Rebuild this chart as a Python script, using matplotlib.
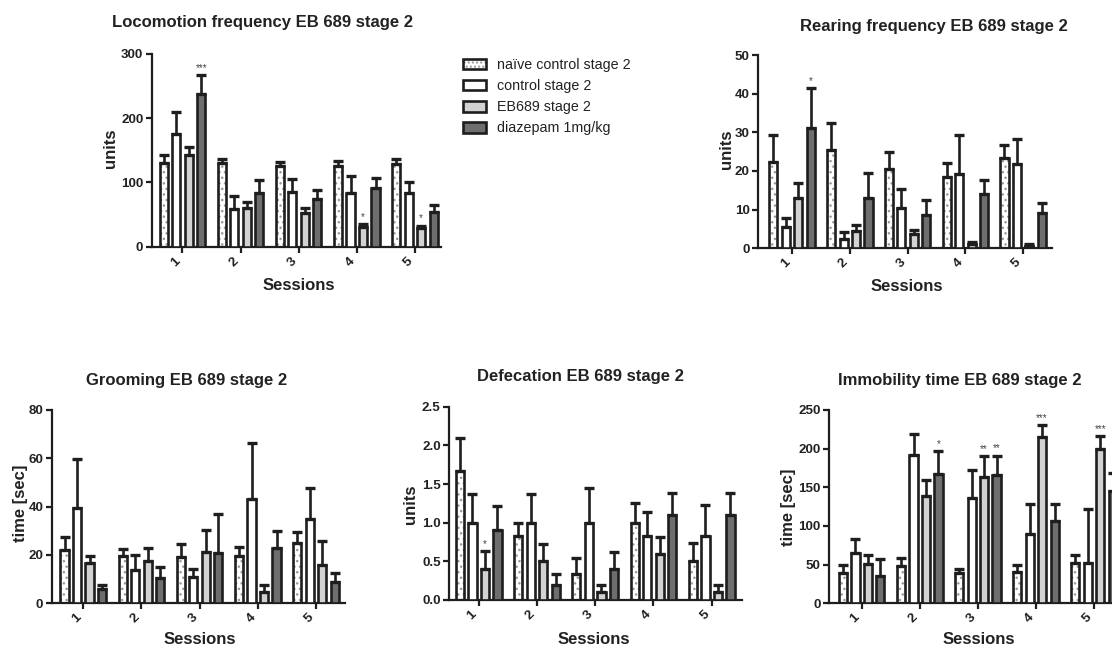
import matplotlib
matplotlib.use("Agg")
import matplotlib.pyplot as plt
from matplotlib.patches import Patch
import numpy as np

plt.rcParams['font.family'] = ['Liberation Sans', 'DejaVu Sans']

W, H = 1112, 648
DPI = 100

sessions = ["1", "2", "3", "4", "5"]
groups = ["naïve control stage 2", "control stage 2", "EB689 stage 2", "diazepam 1mg/kg"]

# ---- data: rows = groups (naive, control, EB689, diazepam), columns = sessions 1..5
loco_mean = [[130, 130, 125, 125, 128],
             [175, 59, 85, 83, 84],
             [143, 60, 52, 30, 29],
             [237, 84, 75, 92, 54]]
loco_err = [[12, 6, 7, 8, 9],
            [34, 20, 20, 27, 16],
            [12, 9, 9, 5, 4],
            [30, 20, 13, 15, 11]]
loco_sig = [(3, 0, "***"), (2, 3, "*"), (2, 4, "*")]

rear_mean = [[22.4, 25.3, 20.4, 18.4, 23.4],
             [5.4, 2.4, 10.3, 19.3, 21.8],
             [12.9, 4.6, 3.6, 1.2, 0.7],
             [31.2, 12.9, 8.5, 14.0, 9.1]]
rear_err = [[6.9, 7.2, 4.6, 3.6, 3.4],
            [2.5, 1.7, 5.0, 10.0, 6.4],
            [3.9, 1.3, 1.1, 0.4, 0.3],
            [10.2, 6.7, 4.0, 3.7, 2.7]]
rear_sig = [(3, 0, "*")]

groom_mean = [[22.1, 19.6, 19.3, 19.6, 25.0],
              [39.4, 13.8, 10.8, 43.0, 34.8],
              [16.6, 17.5, 21.2, 4.7, 15.7],
              [5.8, 10.3, 21.0, 22.8, 9.0]]
groom_err = [[5.5, 3.0, 5.1, 3.8, 4.4],
             [20.5, 6.3, 3.3, 23.2, 12.8],
             [3.0, 5.5, 9.1, 2.9, 10.1],
             [1.8, 4.7, 16.0, 7.3, 3.4]]
groom_sig = []

defec_mean = [[1.67, 0.83, 0.34, 1.0, 0.5],
              [1.0, 1.0, 1.0, 0.83, 0.83],
              [0.4, 0.5, 0.1, 0.6, 0.1],
              [0.9, 0.2, 0.4, 1.1, 1.1]]
defec_err = [[0.43, 0.17, 0.20, 0.26, 0.24],
             [0.37, 0.37, 0.45, 0.31, 0.40],
             [0.23, 0.23, 0.10, 0.22, 0.10],
             [0.32, 0.13, 0.22, 0.28, 0.28]]
defec_sig = [(2, 0, "*")]

immob_mean = [[39, 48, 39, 40, 52],
              [65, 192, 136, 90, 52],
              [51, 139, 163, 215, 200],
              [35, 167, 166, 106, 145]]
immob_err = [[11, 10, 6, 9, 10],
             [18, 27, 36, 39, 70],
             [12, 20, 27, 15, 16],
             [22, 30, 25, 22, 24]]
immob_sig = [(3, 1, "*"), (2, 2, "**"), (3, 2, "**"), (2, 3, "***"), (2, 4, "***")]

face_colors = ["white", "white", "#d2d2d2", "#6e6e6e"]
EDGE = "#1e1e1e"
TXT = "#222222"
BAR_W = 0.14
PITCH = 0.215
LW = 1.9

fig = plt.figure(figsize=(W / DPI, H / DPI), dpi=DPI)


def add_ax(left, right, y0, ytop):
    return fig.add_axes([left / W, 1 - y0 / H, (right - left) / W, (y0 - ytop) / H])


def panel(ax, means, errs, sig, ymax, ystep, xlim, ylabel, yfmt):
    x = np.arange(1, len(sessions) + 1)
    for g in range(4):
        pos = x + (g - 1.5) * PITCH
        m = np.array(means[g], dtype=float)
        e = np.array(errs[g], dtype=float)
        if g == 0:
            ax.bar(pos, m, BAR_W, color="white", edgecolor="#9a9a9a", hatch="...",
                   linewidth=0, zorder=2)
            ax.bar(pos, m, BAR_W, fill=False, edgecolor=EDGE, linewidth=LW, zorder=3)
        else:
            ax.bar(pos, m, BAR_W, color=face_colors[g], edgecolor=EDGE,
                   linewidth=LW, zorder=3)
        ax.errorbar(pos, m, yerr=[np.zeros_like(e), e], fmt="none", ecolor=EDGE,
                    elinewidth=1.9, capsize=3.5, capthick=2.4, zorder=4)
    for g, s, txt in sig:
        ax.annotate(txt, (s + 1 + (g - 1.5) * PITCH, means[g][s] + errs[g][s]),
                    xytext=(0, 1.5), textcoords="offset points", ha="center",
                    va="bottom", fontsize=7, color="#444444")
    ax.set_xlim(*xlim)
    ax.set_ylim(0, ymax)
    ticks = np.arange(0, ymax + ystep / 2, ystep)
    ax.set_yticks(ticks)
    ax.set_yticklabels([yfmt.format(v) for v in ticks],
                       fontsize=9.6, fontweight="bold", color=TXT)
    ax.set_xticks(x)
    ax.set_xticklabels(sessions, rotation=45, ha="right", fontsize=9.6,
                       fontweight="bold", color=TXT)
    for sp in ["top", "right"]:
        ax.spines[sp].set_visible(False)
    for sp in ["left", "bottom"]:
        ax.spines[sp].set_linewidth(1.6)
        ax.spines[sp].set_color(EDGE)
    ax.tick_params(axis="both", width=1.6, length=4, color=EDGE, pad=2)
    ax.set_xlabel("Sessions", fontsize=12, fontweight="bold", color=TXT, va="center")
    ax.set_ylabel(ylabel, fontsize=12, fontweight="bold", color=TXT, va="center")
    return ax


def fix_labels(ax, title, xl_px, yl_px, t_px):
    ax.xaxis.set_label_coords(xl_px[0] / W, 1 - xl_px[1] / H, transform=fig.transFigure)
    ax.yaxis.set_label_coords(yl_px[0] / W, 1 - yl_px[1] / H, transform=fig.transFigure)
    fig.text(t_px[0] / W, 1 - t_px[1] / H, title, ha="center", va="center",
             fontsize=12, fontweight="bold", color=TXT)


# Locomotion
ax1 = add_ax(151.7, 441, 246.7, 54)
panel(ax1, loco_mean, loco_err, loco_sig, 300, 100, (0.47, 5.45), "units", "{:.0f}")
fix_labels(ax1, "Locomotion frequency EB 689 stage 2", (299, 285), (110, 148), (262, 22))

# Rearing
ax2 = add_ax(758, 1052, 248.3, 55)
panel(ax2, rear_mean, rear_err, rear_sig, 50, 10, (0.41, 5.5), "units", "{:.0f}")
fix_labels(ax2, "Rearing frequency EB 689 stage 2", (907, 286.5), (726, 149), (934, 27))

# Grooming
ax3 = add_ax(51.7, 345, 603.3, 410)
panel(ax3, groom_mean, groom_err, groom_sig, 80, 20, (0.457, 5.5), "time [sec]", "{:.0f}")
fix_labels(ax3, "Grooming EB 689 stage 2", (200, 640), (21, 503), (187, 380))

# Defecation
ax4 = add_ax(449, 741.7, 600, 406.7)
panel(ax4, defec_mean, defec_err, defec_sig, 2.5, 0.5, (0.49, 5.515), "units", "{:.1f}")
fix_labels(ax4, "Defecation EB 689 stage 2", (594, 640), (410, 504), (580, 377))

# Immobility
ax5 = add_ax(829, 1123, 603.3, 410)
panel(ax5, immob_mean, immob_err, immob_sig, 250, 50, (0.437, 5.5), "time [sec]", "{:.0f}")
fix_labels(ax5, "Immobility time EB 689 stage 2", (979, 640), (788, 507), (960, 381))

# Legend
h_naive = (Patch(facecolor="white", edgecolor="#9a9a9a", hatch="....", linewidth=0),
           Patch(fill=False, edgecolor=EDGE, linewidth=LW))
handles = [h_naive,
           Patch(facecolor="white", edgecolor=EDGE, linewidth=LW),
           Patch(facecolor=face_colors[2], edgecolor=EDGE, linewidth=LW),
           Patch(facecolor=face_colors[3], edgecolor=EDGE, linewidth=LW)]
fig.legend(handles, groups, loc="upper left", bbox_to_anchor=(463 / W, 1 - 58 / H),
           frameon=False, fontsize=10.3, handlelength=1.6, handleheight=0.75,
           handletextpad=0.8, labelspacing=0.5, borderpad=0, borderaxespad=0,
           labelcolor=TXT)

fig.savefig("out.png", dpi=DPI)
